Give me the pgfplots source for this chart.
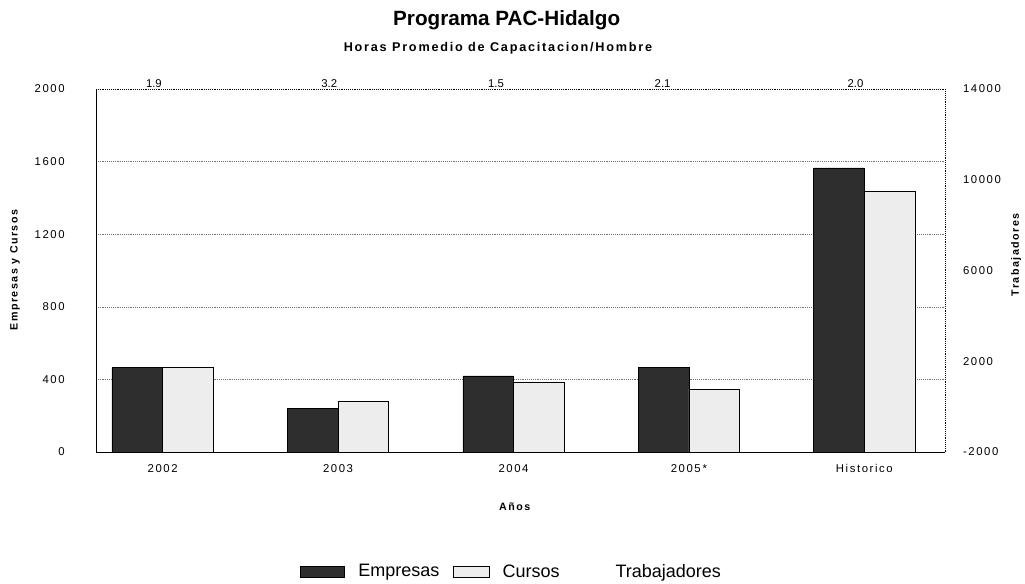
\documentclass[border=0pt]{standalone}
\usepackage{fontspec}
\setmainfont{Liberation Sans}
\newfontfamily\spaced[LetterSpace=14]{Liberation Sans}
\usepackage{pgfplots}
\pgfplotsset{compat=1.18}
\begin{document}
\begin{tikzpicture}
\useasboundingbox (-72pt,-98.25pt) rectangle (696.75pt,339pt);
\begin{axis}[
  at={(0,0)}, anchor=south west,
  scale only axis, width=636.75pt, height=272.25pt,
  ymin=0, ymax=2000, ytick={0,400,800,1200,1600,2000},
  xmin=-0.38, xmax=4.46,
  xtick={0,1,2,3,4},
  xticklabels={2002,2003,2004,2005\,*,Historico},
  major tick length=0pt,
  ybar=0pt, bar width=38pt,
  ymajorgrids, grid style={black!55, densely dotted},
  axis line style={black},
  axis y line*=left, axis x line*=bottom,
  /pgf/number format/assume math mode=true,
  /pgf/number format/set thousands separator={},
  tick label style={font=\spaced\fontsize{8.5}{10}\selectfont},
  yticklabel style={xshift=-20pt},
  xticklabel style={yshift=-6pt},
  legend style={at={(0.49,-0.33)}, anchor=center, draw=none, legend columns=3,
    font=\fontsize{13.5}{15}\selectfont, column sep=8pt},
  clip=false,
]
\addplot[draw=black, fill=black!82, legend image code/.code={\draw[draw=black, fill=black!82] (0pt,-4pt) rectangle (33pt,4pt);}] coordinates {(0,465) (1,242) (2,419) (3,468) (4,1565)};
\addlegendentry{Empresas}
\addplot[draw=black, fill=black!7, legend image code/.code={\draw[draw=black, fill=black!7] (0pt,-4pt) rectangle (27pt,4pt);}] coordinates {(0,465) (1,281) (2,386) (3,347) (4,1438)};
\addlegendentry{Cursos}
\addlegendimage{empty legend}
\addlegendentry{\hspace*{22pt}Trabajadores}
\node[above, inner sep=1pt, font=\fontsize{8.5}{9}\selectfont] at (axis cs:-0.05,2000) {1.9};
\node[above, inner sep=1pt, font=\fontsize{8.5}{9}\selectfont] at (axis cs:0.95,2000) {3.2};
\node[above, inner sep=1pt, font=\fontsize{8.5}{9}\selectfont] at (axis cs:1.9,2000) {1.5};
\node[above, inner sep=1pt, font=\fontsize{8.5}{9}\selectfont] at (axis cs:2.85,2000) {2.1};
\node[above, inner sep=1pt, font=\fontsize{8.5}{9}\selectfont] at (axis cs:3.95,2000) {2.0};
\end{axis}
\begin{axis}[
  at={(0,0)}, anchor=south west,
  scale only axis, width=636.75pt, height=272.25pt,
  ymin=-2000, ymax=14000, ytick={-2000,2000,6000,10000,14000},
  scaled y ticks=false,
  xmin=-0.38, xmax=4.46,
  axis x line=none, axis y line*=right,
  axis line style={black, densely dotted},
  major tick length=0pt,
  /pgf/number format/assume math mode=true,
  /pgf/number format/set thousands separator={},
  tick label style={font=\spaced\fontsize{8.5}{10}\selectfont},
  yticklabel style={xshift=10pt},
]
\addplot[draw=none] coordinates {(0,-2000)};
\end{axis}
\draw[black, densely dotted] (0,272.25pt) -- (636.75pt,272.25pt);
\node[font=\bfseries\fontsize{15.5}{17}\selectfont] at (308pt,324pt) {Programa PAC-Hidalgo};
\node[font=\spaced\bfseries\fontsize{9.5}{11}\selectfont] at (301.5pt,303pt) {Horas Promedio de Capacitacion/Hombre};
\node[font=\spaced\bfseries\fontsize{8}{9}\selectfont] at (314pt,-41pt) {Años};
\node[rotate=90, font=\spaced\bfseries\fontsize{8}{9}\selectfont] at (-60.75pt,136.5pt) {Empresas y Cursos};
\node[rotate=90, font=\spaced\bfseries\fontsize{8}{9}\selectfont] at (690pt,148pt) {Trabajadores};
\end{tikzpicture}
\end{document}
